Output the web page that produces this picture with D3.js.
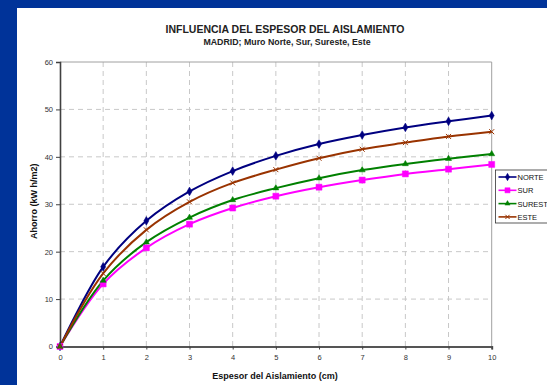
<!DOCTYPE html>
<html>
<head>
<meta charset="utf-8">
<script src="https://cdn.jsdelivr.net/npm/d3@7"></script>
<style>
  html, body { margin: 0; padding: 0; background: #003399; }
  #chart { width: 547px; height: 385px; }
</style>
</head>
<body>
<div id="chart"></div>
<script>
// espesor (cm)
const espesor = [0, 1, 2, 3, 4, 5, 6, 7, 8, 9, 10];

const norte   = [0, 16.8, 26.5, 32.7, 37.0, 40.2, 42.7, 44.6, 46.2, 47.5, 48.7];
const sur     = [0, 13.2, 20.8, 25.8, 29.2, 31.7, 33.6, 35.1, 36.4, 37.4, 38.4];
const sureste = [0, 13.9, 22.0, 27.2, 30.9, 33.4, 35.5, 37.2, 38.5, 39.6, 40.6];
const este    = [0, 15.4, 24.6, 30.5, 34.5, 37.3, 39.7, 41.6, 43.0, 44.3, 45.3];

const yTicks = [0, 10, 20, 30, 40, 50, 60];

const series = [
  { name: "NORTE",   values: norte,   color: "#000080", marker: "diamond" },
  { name: "SUR",     values: sur,     color: "#ff00ff", marker: "square" },
  { name: "SURESTE", values: sureste, color: "#008000", marker: "triangle" },
  { name: "ESTE",    values: este,    color: "#993300", marker: "cross" }
];

// marker sizes (symbol areas)
const markerArea = { diamond: 22, square: 36, triangle: 16, cross: 5 };

function drawMarker(sel, type, color, k) {
  if (type === "cross") {
    const s = markerArea.cross * 0.5 * k;
    sel.append("path")
      .attr("d", `M${-s},${-s}L${s},${s}M${-s},${s}L${s},${-s}`)
      .attr("stroke", color)
      .attr("stroke-width", 1)
      .attr("fill", "none");
    return;
  }
  const sym = {
    diamond: d3.symbolDiamond,
    square: d3.symbolSquare,
    triangle: d3.symbolTriangle
  }[type];
  sel.append("path")
    .attr("d", d3.symbol().type(sym).size(markerArea[type] * k * k)())
    .attr("fill", color)
    .attr("stroke", color)
    .attr("stroke-width", 0.5);
}

function renderChart() {
  const width = 547, height = 385;
  const svg = d3.select("#chart").append("svg")
    .attr("width", width)
    .attr("height", height)
    .style("font-family", "'Liberation Sans', Arial, sans-serif");

  // white panel
  svg.append("rect")
    .attr("x", 17).attr("y", 8)
    .attr("width", width - 17).attr("height", height - 8)
    .attr("fill", "#ffffff");

  const plot = { left: 60, right: 491.7, top: 62, bottom: 346.5 };

  const x = d3.scaleLinear().domain([0, 10]).range([plot.left, plot.right]);
  const y = d3.scaleLinear().domain([0, 60]).range([plot.bottom, plot.top]);

  const g = svg.append("g");

  // grid
  g.append("g")
    .selectAll("line")
    .data(espesor.slice(1, -1))
    .enter().append("line")
    .attr("x1", d => x(d)).attr("x2", d => x(d))
    .attr("y1", plot.top).attr("y2", plot.bottom)
    .attr("stroke", "#c8c8c8")
    .attr("stroke-dasharray", "5,4");

  g.append("g")
    .selectAll("line")
    .data(yTicks.slice(1, -1))
    .enter().append("line")
    .attr("x1", plot.left).attr("x2", plot.right)
    .attr("y1", d => y(d)).attr("y2", d => y(d))
    .attr("stroke", "#c8c8c8")
    .attr("stroke-dasharray", "5,4");

  // plot border top / right
  g.append("path")
    .attr("d", `M${plot.left},${plot.top}H${plot.right}V${plot.bottom}`)
    .attr("fill", "none")
    .attr("stroke", "#a0a0a0")
    .attr("stroke-width", 1);

  // y-axis
  const yAxis = g.append("g")
    .attr("transform", `translate(${plot.left},0)`)
    .call(d3.axisLeft(y).tickValues(yTicks).tickSize(4).tickPadding(3));
  yAxis.select(".domain").attr("stroke", "#404040").attr("stroke-width", 1.6);
  yAxis.selectAll(".tick line").attr("stroke", "#404040");
  yAxis.selectAll("text").attr("font-size", 7.5).attr("fill", "#333")
    .attr("font-family", "'Liberation Sans', Arial, sans-serif");

  // x-axis
  const xAxis = g.append("g")
    .attr("transform", `translate(0,${plot.bottom})`)
    .call(d3.axisBottom(x).tickValues(espesor).tickSize(3).tickPadding(5));
  xAxis.select(".domain").attr("stroke", "#555").attr("stroke-width", 2);
  xAxis.selectAll(".tick line").attr("stroke", "#404040");
  xAxis.selectAll("text").attr("font-size", 7.5).attr("fill", "#333")
    .attr("font-family", "'Liberation Sans', Arial, sans-serif");

  // lines
  const line = d3.line()
    .x((d, i) => x(espesor[i]))
    .y(d => y(d))
    .curve(d3.curveCatmullRom.alpha(0.5));

  series.forEach(s => {
    g.append("path")
      .datum(s.values)
      .attr("d", line)
      .attr("fill", "none")
      .attr("stroke", s.color)
      .attr("stroke-width", 2);
  });

  series.forEach(s => {
    s.values.forEach((v, i) => {
      const m = g.append("g").attr("transform", `translate(${x(espesor[i])},${y(v)})`);
      drawMarker(m, s.marker, s.color, 1);
    });
  });

  // titles
  svg.append("text")
    .attr("x", 285).attr("y", 33)
    .attr("text-anchor", "middle")
    .attr("font-size", 10.5).attr("font-weight", "bold").attr("fill", "#222")
    .text("INFLUENCIA DEL ESPESOR DEL AISLAMIENTO");

  svg.append("text")
    .attr("x", 287).attr("y", 45)
    .attr("text-anchor", "middle")
    .attr("font-size", 8.8).attr("font-weight", "bold").attr("fill", "#222")
    .text("MADRID; Muro Norte, Sur, Sureste, Este");

  svg.append("text")
    .attr("x", 275).attr("y", 379)
    .attr("text-anchor", "middle")
    .attr("font-size", 9).attr("font-weight", "bold").attr("fill", "#111")
    .text("Espesor del Aislamiento (cm)");

  svg.append("text")
    .attr("transform", `translate(37,${(plot.top + plot.bottom) / 2 - 3}) rotate(-90)`)
    .attr("text-anchor", "middle")
    .attr("font-size", 9).attr("font-weight", "bold").attr("fill", "#111")
    .text("Ahorro (kW h/m2)");

  // legend
  const legend = svg.append("g").attr("transform", "translate(495.5,170)");
  legend.append("rect")
    .attr("width", 60).attr("height", 53)
    .attr("fill", "#fff")
    .attr("stroke", "#333").attr("stroke-width", 0.8);

  series.forEach((s, i) => {
    const row = legend.append("g").attr("transform", `translate(0,${7 + i * 13.3})`);
    row.append("line")
      .attr("x1", 3).attr("x2", 21)
      .attr("stroke", s.color).attr("stroke-width", 1.6);
    const m = row.append("g").attr("transform", "translate(12,0)");
    drawMarker(m, s.marker, s.color, 0.85);
    row.append("text")
      .attr("x", 22).attr("y", 3)
      .attr("font-size", 7.5).attr("fill", "#111")
      .text(s.name);
  });
}

renderChart();
</script>
</body>
</html>
